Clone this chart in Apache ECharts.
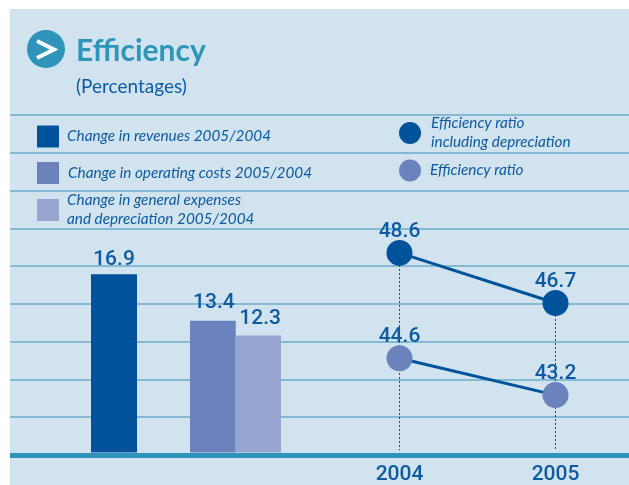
<!DOCTYPE html>
<html><head><meta charset="utf-8">
<style>html,body{margin:0;padding:0;background:#fff}#c{width:629px;height:485px}</style>
<script src="https://cdn.jsdelivr.net/npm/echarts@6/dist/echarts.min.js"></script>
</head><body><div id="c"></div>
<script>
const years = ['2004', '2005'];
const revenues = [16.9];
const operatingCosts = [13.4, null];
const generalExpenses = [null, 12.3];
const ratioInclDep = [48.6, 46.7];
const ratio = [44.6, 43.2];
const nRevenues = 'Change in revenues 2005/2004';
const nCosts = 'Change in operating costs 2005/2004';
const nGeneral = 'Change in general expenses\nand depreciation 2005/2004';
const nInclDep = 'Efficiency ratio\nincluding depreciation';
const nRatio = 'Efficiency ratio';

const navy = '#00529b', mid = '#6c82bd', light = '#97a5d1', teal = '#2e94b9', ink = '#0f5aa3';
const font = 'Lato';
const numFont = {color: ink, fontFamily: 'Roboto', fontSize: 21, fontWeight: 500};

function legend(name, left, top, icon, textLeft, textTop) {
  return {data: [{name, icon}], left, top, padding: 0, orient: 'vertical', itemWidth: 22, itemHeight: 22,
    selectedMode: false,
    textStyle: {color: ink, fontFamily: font, fontStyle: 'italic', fontSize: 15.3, lineHeight: 19, padding: [textTop, 0, 0, textLeft]}};
}
const hiddenAxis = {show: false};
function barSeries(name, data, color, idx, distance, shift) {
  return {type: 'bar', name, data, xAxisIndex: idx, yAxisIndex: idx, barWidth: 46, barGap: '-100%',
    itemStyle: {color}, z: 3,
    label: {show: true, position: 'top', distance, offset: [shift, 0], ...numFont}};
}
function lineSeries(name, data, color) {
  return {type: 'line', name, data, xAxisIndex: 3, yAxisIndex: 3, symbol: 'circle', symbolSize: 26, clip: false,
    itemStyle: {color, opacity: 1}, lineStyle: {color: navy, width: 3}, z: 4,
    label: {show: true, position: 'top', distance: -2, ...numFont},
    markLine: {silent: true, symbol: 'none', animation: false, z: 2,
      lineStyle: {color: navy, width: 1, type: [2, 2]}, label: {show: false},
      data: name === nInclDep ? years.map((y, i) => [{coord: [y, data[i]]}, {coord: [y, 41.1]}]) : []}};
}

const chart = echarts.init(document.getElementById('c'), null, {renderer: 'canvas'});
chart.setOption({
  animation: false,
  backgroundColor: '#fff',
  title: {text: 'Efficiency', subtext: '(Percentages)', left: 76, top: 36, itemGap: 11, padding: 0,
    textStyle: {color: teal, fontFamily: 'Lato', fontSize: 30, fontWeight: 700},
    subtextStyle: {color: ink, fontFamily: 'Lato', fontSize: 19}},
  legend: [
    legend(nRevenues, 37, 125, 'rect', 3, 4),
    legend(nCosts, 37, 162, 'rect', 4, 2),
    legend(nGeneral, 37, 188, 'rect', 3, 6),
    legend(nInclDep, 399, 112, 'circle', 5, 4),
    legend(nRatio, 399, 159, 'circle', 4, 4)
  ],
  grid: [
    {left: 10, top: 115, width: 619, height: 340},
    {left: 91, top: 266.3, width: 46, height: 186.2},
    {left: 190, top: 266.3, width: 91, height: 186.2},
    {left: 399.5, top: 242.4, width: 156, height: 211.2}
  ],
  xAxis: [
    {gridIndex: 0, type: 'category', data: [''], axisTick: {show: false}, axisLabel: {show: false},
      axisLine: {show: true, lineStyle: {color: teal, width: 5, cap: 'butt'}}, z: 5},
    {gridIndex: 1, type: 'category', data: ['Revenues'], ...hiddenAxis},
    {gridIndex: 2, type: 'category', data: ['Operating costs', 'General expenses'], ...hiddenAxis},
    {gridIndex: 3, type: 'category', data: years, boundaryGap: false, axisLine: {show: false}, axisTick: {show: false},
      axisLabel: {show: true, margin: 11, ...numFont}}
  ],
  yAxis: [
    {gridIndex: 0, type: 'value', min: 0, max: 9, interval: 1, axisLabel: {show: false}, axisLine: {show: false}, axisTick: {show: false},
      splitLine: {show: true, lineStyle: {color: '#6aaecb', width: 1.5}}},
    {gridIndex: 1, type: 'value', min: 3.5, max: 17.5, ...hiddenAxis},
    {gridIndex: 2, type: 'value', min: 3.5, max: 17.5, ...hiddenAxis},
    {gridIndex: 3, type: 'value', min: 41, max: 49, ...hiddenAxis}
  ],
  series: [
    barSeries(nRevenues, revenues, navy, 1, 4, 0),
    barSeries(nCosts, operatingCosts, mid, 2, 8, 1),
    barSeries(nGeneral, generalExpenses, light, 2, 6, 2),
    lineSeries(nInclDep, ratioInclDep, navy),
    lineSeries(nRatio, ratio, mid)
  ],
  graphic: [
    {type: 'rect', z: -10, silent: true, shape: {x: 10, y: 9, width: 619, height: 476}, style: {fill: '#d0e3ef'}},
    {type: 'circle', z: 10, shape: {cx: 46, cy: 49, r: 19}, style: {fill: teal}},
    {type: 'polyline', z: 11, shape: {points: [[37, 41], [54, 49.5], [37, 58]]}, style: {stroke: '#fff', lineWidth: 4, fill: 'none'}}
  ]
});
</script></body></html>
